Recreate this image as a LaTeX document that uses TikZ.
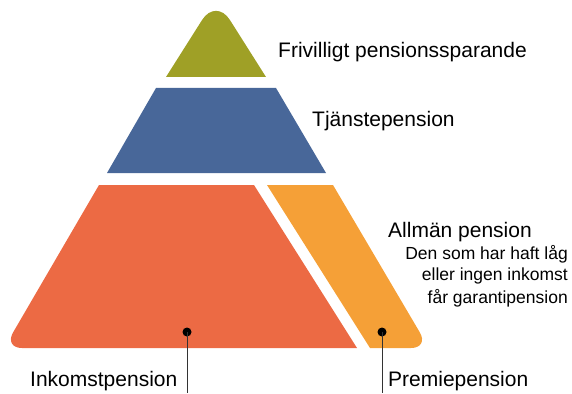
\documentclass[tikz,border=0pt]{standalone}
\usepackage{fontspec}
\setmainfont{Liberation Sans}
\definecolor{cOlive}{RGB}{159,160,38}
\definecolor{cBlue}{RGB}{72,103,153}
\definecolor{cRed}{RGB}{236,106,68}
\definecolor{cOrange}{RGB}{245,160,55}
\begin{document}
\begin{tikzpicture}[x=1pt,y=-1pt,
  lbl/.style={inner sep=0pt,font=\fontsize{21}{23}\selectfont},
  sublbl/.style={inner sep=0pt,font=\fontsize{17.5}{19}\selectfont},
  dot/.style={circle,fill=black,inner sep=0pt,minimum size=9pt},
  leader/.style={draw=black!80,line width=0.8pt}]
\useasboundingbox (0,0) rectangle (572,393);
% olive top
\fill[cOlive] (166,77) [rounded corners=26pt] -- (216,-2) [sharp corners] -- (266,77) -- cycle;
% blue
\fill[cBlue] (156,88) -- (276,88) -- (326,173) -- (107,173) -- cycle;
% red
\fill[cRed] (99,185) -- (254,185) -- (357,348) [rounded corners=18pt] -- (4,348) [sharp corners] -- cycle;
% orange
\fill[cOrange] (267,185) -- (333,185) [rounded corners=18pt] -- (429,348) [sharp corners] -- (370,348) -- cycle;
% dots
\node[dot] (d1) at (187,332) {};
\node[dot] (d2) at (382,332) {};
\coordinate (e1) at (187,393);
\coordinate (e2) at (382,393);
\draw[leader] (d1.center) -- (e1);
\draw[leader] (d2.center) -- (e2);
% labels
\node[lbl,anchor=west] (t1) at (278,52) {Frivilligt pensionssparande};
\node[lbl,anchor=west] (t2) at (312,121) {Tjänstepension};
\node[lbl,anchor=west] (t3) at (388,232) {Allmän pension};
\node[sublbl,anchor=east] (s1) at (568,254) {Den som har haft låg};
\node[sublbl,anchor=east] (s2) at (568,276) {eller ingen inkomst};
\node[sublbl,anchor=east] (s3) at (568,298) {får garantipension};
\node[lbl,anchor=west] (t4) at (30,381) {Inkomstpension};
\node[lbl,anchor=west] (t5) at (388,381) {Premiepension};
\end{tikzpicture}
\end{document}
